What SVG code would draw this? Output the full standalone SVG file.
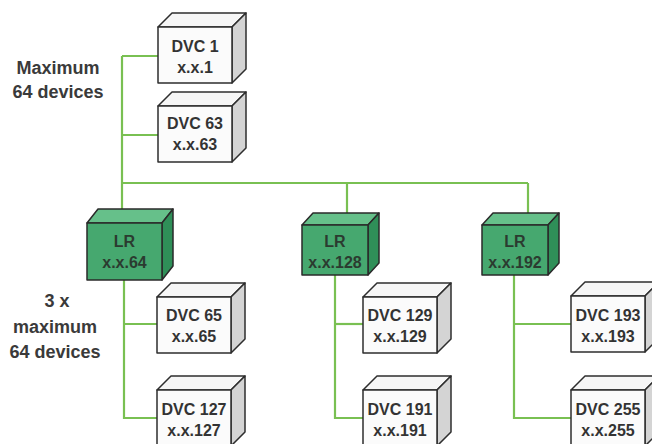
<svg xmlns="http://www.w3.org/2000/svg" width="652" height="444" viewBox="0 0 652 444">
<style>
.bg{fill:#ffffff}
.wire{fill:none;stroke:#79c052;stroke-width:2.2;stroke-linejoin:miter}
.df{fill:#fbfbfb;stroke:#2e2e2e;stroke-width:1.5;stroke-linejoin:round}
.dt{fill:#f6f6f6;stroke:#2e2e2e;stroke-width:1.5;stroke-linejoin:round}
.ds{fill:#d4d4d4;stroke:#2e2e2e;stroke-width:1.5;stroke-linejoin:round}
.lf{fill:#46a86f;stroke:#2a2a2a;stroke-width:1.5;stroke-linejoin:round}
.lt{fill:#66c08a;stroke:#2a2a2a;stroke-width:1.5;stroke-linejoin:round}
.ls{fill:#2f8f58;stroke:#2a2a2a;stroke-width:1.5;stroke-linejoin:round}
.t{font-family:"Liberation Sans",Arial,sans-serif;font-weight:bold;font-size:16px;fill:#333333;text-anchor:middle}
.tl{font-family:"Liberation Sans",Arial,sans-serif;font-weight:bold;font-size:16px;fill:#2b3b30;text-anchor:middle}
.lab{font-family:"Liberation Sans",Arial,sans-serif;font-weight:bold;font-size:18px;fill:#3a3a3a;text-anchor:middle}
</style>
<rect class="bg" x="0" y="0" width="652" height="444"/>

<g id="connectors">
  <path class="wire" d="M122,56 V209"/>
  <path class="wire" d="M122,56 H158"/>
  <path class="wire" d="M122,135 H158"/>
  <path class="wire" d="M122,183 H528"/>
  <path class="wire" d="M347,183 V213"/>
  <path class="wire" d="M528,183 V213"/>
  <path class="wire" d="M124,280 V418 H157"/>
  <path class="wire" d="M124,324 H157"/>
  <path class="wire" d="M335,275 V418 H363"/>
  <path class="wire" d="M335,324 H363"/>
  <path class="wire" d="M514,275 V418 H571"/>
  <path class="wire" d="M514,324 H571"/>
</g>

<g id="labels">
  <text class="lab" x="58" y="74">Maximum</text>
  <text class="lab" x="58" y="98">64 devices</text>
  <text class="lab" x="57" y="307">3 x</text>
  <text class="lab" x="55" y="333">maximum</text>
  <text class="lab" x="55" y="358">64 devices</text>
</g>

<g id="dvc1">
  <path class="dt" d="M158,27 L172,13 H246 L232,27 Z"/>
  <path class="ds" d="M232,27 L246,13 V69 L232,83 Z"/>
  <rect class="df" x="158" y="27" width="74" height="56"/>
  <text class="t" x="195" y="52">DVC 1</text>
  <text class="t" x="195" y="73">x.x.1</text>
</g>

<g id="dvc63">
  <path class="dt" d="M158,106 L172,92 H246 L232,106 Z"/>
  <path class="ds" d="M232,106 L246,92 V148 L232,162 Z"/>
  <rect class="df" x="158" y="106" width="74" height="56"/>
  <text class="t" x="195" y="129">DVC 63</text>
  <text class="t" x="195" y="150">x.x.63</text>
</g>

<g id="lr64">
  <path class="lt" d="M87,223 L98,209 H173 L162,223 Z"/>
  <path class="ls" d="M162,223 L173,209 V266 L162,280 Z"/>
  <rect class="lf" x="87" y="223" width="75" height="57"/>
  <text class="tl" x="124.5" y="247">LR</text>
  <text class="tl" x="124.5" y="268">x.x.64</text>
</g>

<g id="lr128">
  <path class="lt" d="M302,225 L313,213 H379 L368,225 Z"/>
  <path class="ls" d="M368,225 L379,213 V263 L368,275 Z"/>
  <rect class="lf" x="302" y="225" width="66" height="50"/>
  <text class="tl" x="335" y="247">LR</text>
  <text class="tl" x="335" y="268">x.x.128</text>
</g>

<g id="lr192">
  <path class="lt" d="M482,225 L493,213 H559 L548,225 Z"/>
  <path class="ls" d="M548,225 L559,213 V263 L548,275 Z"/>
  <rect class="lf" x="482" y="225" width="66" height="50"/>
  <text class="tl" x="515" y="247">LR</text>
  <text class="tl" x="515" y="268">x.x.192</text>
</g>

<g id="dvc65">
  <path class="dt" d="M157,297 L171,283 H245 L231,297 Z"/>
  <path class="ds" d="M231,297 L245,283 V339 L231,353 Z"/>
  <rect class="df" x="157" y="297" width="74" height="56"/>
  <text class="t" x="194" y="321">DVC 65</text>
  <text class="t" x="194" y="342">x.x.65</text>
</g>

<g id="dvc127">
  <path class="dt" d="M157,390 L171,376 H245 L231,390 Z"/>
  <path class="ds" d="M231,390 L245,376 V432 L231,446 Z"/>
  <rect class="df" x="157" y="390" width="74" height="56"/>
  <text class="t" x="194" y="415">DVC 127</text>
  <text class="t" x="194" y="436">x.x.127</text>
</g>

<g id="dvc129">
  <path class="dt" d="M363,297 L377,283 H451 L437,297 Z"/>
  <path class="ds" d="M437,297 L451,283 V339 L437,353 Z"/>
  <rect class="df" x="363" y="297" width="74" height="56"/>
  <text class="t" x="400" y="321">DVC 129</text>
  <text class="t" x="400" y="342">x.x.129</text>
</g>

<g id="dvc191">
  <path class="dt" d="M363,390 L377,376 H451 L437,390 Z"/>
  <path class="ds" d="M437,390 L451,376 V432 L437,446 Z"/>
  <rect class="df" x="363" y="390" width="74" height="56"/>
  <text class="t" x="400" y="415">DVC 191</text>
  <text class="t" x="400" y="436">x.x.191</text>
</g>

<g id="dvc193">
  <path class="dt" d="M571,296 L585,282 H659 L645,296 Z"/>
  <path class="ds" d="M645,296 L659,282 V338 L645,352 Z"/>
  <rect class="df" x="571" y="296" width="74" height="56"/>
  <text class="t" x="608" y="321">DVC 193</text>
  <text class="t" x="608" y="342">x.x.193</text>
</g>

<g id="dvc255">
  <path class="dt" d="M571,390 L585,376 H659 L645,390 Z"/>
  <path class="ds" d="M645,390 L659,376 V432 L645,446 Z"/>
  <rect class="df" x="571" y="390" width="74" height="56"/>
  <text class="t" x="608" y="415">DVC 255</text>
  <text class="t" x="608" y="436">x.x.255</text>
</g>
</svg>
